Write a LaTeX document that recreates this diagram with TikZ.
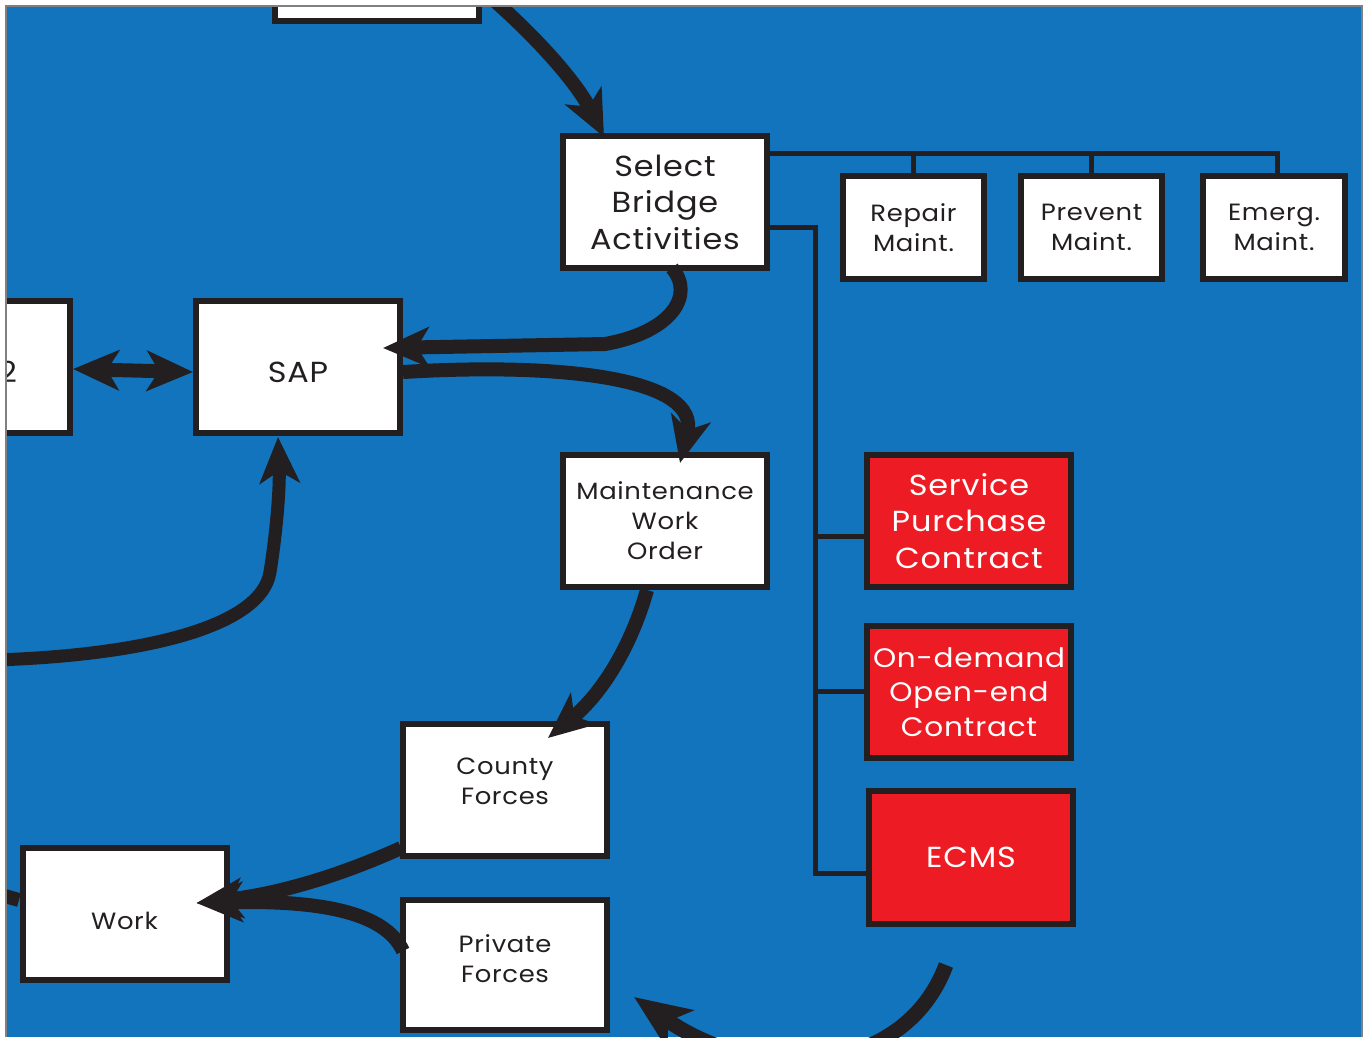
\documentclass[tikz,border=0pt]{standalone}
\usepackage{fontspec}
\setmainfont{Poppins}[FakeStretch=1.1, LetterSpace=3]
\usetikzlibrary{arrows.meta,calc}
\definecolor{bg}{RGB}{17,116,188}
\definecolor{ink}{RGB}{35,31,32}
\definecolor{redfill}{RGB}{237,28,36}
\newcommand\fntL{\fontsize{29}{36.5}\selectfont}
\newcommand\fntM{\fontsize{23.5}{30}\selectfont}
\newcommand\lift[2]{\raisebox{#1}[\height][\depth]{\begin{tabular}{@{}c@{}}#2\end{tabular}}}
\begin{document}
\begin{tikzpicture}[x=1pt,y=-1pt,
  box/.style={draw=ink, line width=6pt, fill=white, minimum width=204pt, minimum height=132pt, inner sep=0pt, align=center, text=ink, font=\fntM},
  bigtext/.style={font=\fntL},
  mbox/.style={box, minimum width=141pt, minimum height=103pt},
  rbox/.style={box, bigtext, fill=redfill, text=white},
  flow/.style={draw=ink, line width=14pt},
  tip/.style={-{Stealth[length=46pt,width=40pt,inset=12pt]}},
  tree/.style={draw=ink, line width=5pt}]
\useasboundingbox (0,0) rectangle (1364,1037);
\fill[white] (0,0) rectangle (1364,1037);
\fill[bg] (6,6) rectangle (1362,1037);
\begin{scope}
\clip (7,7) rectangle (1361.5,1040);
% tree lines
\coordinate (bus1) at (770,153);
\coordinate (bus2) at (770,227);
\draw[tree] (bus1) -- (1277,153) -- (1277,180);
\draw[tree] (913.5,153) -- (913.5,180);
\draw[tree] (1091.5,153) -- (1091.5,180);
\draw[tree] (bus2) -- (815,227) -- (815,873) -- (870,873);
\draw[tree] (815,536) -- (870,536);
\draw[tree] (815,691) -- (870,691);
% stub into Work
\coordinate (wl) at (-20,889);
% nodes
\node[box] (top) at (377,-45) {};
\node[box, bigtext] (sel) at (665,202) {Select\\Bridge\\Activities};
\node[mbox] (rep) at (913.5,227.5) {Repair\\Maint.};
\node[mbox] (prev) at (1091.5,227.5) {Prevent\\Maint.};
\node[mbox, minimum width=142pt] (emg) at (1274,227.5) {Emerg.\\Maint.};
\node[rbox] (spc) at (969,521) {Service\\Purchase\\Contract};
\node[rbox, font=\fontsize{26.8}{34.5}\selectfont] (ode) at (969,692) {On-demand\\Open-end\\Contract};
\node[rbox, minimum height=133pt] (ecms) at (971,857.5) {ECMS};
\node[box, bigtext] (sap) at (298,367) {\lift{-8pt}{SAP}};
\node[box, bigtext] (left) at (-32,367) {\makebox[98pt][r]{\lift{-8pt}{2}}};
\node[box] (mwo) at (665,521) {Maintenance\\Work\\Order};
\node[box] (cty) at (505,790) {\lift{7pt}{County\\Forces}};
\node[box, minimum height=130pt] (pvt) at (505,965) {\lift{4pt}{Private\\Forces}};
\draw[flow] (wl) -- ([yshift=14pt]19,914);
\node[box] (work) at (124.5,914) {\lift{-9pt}{Work}};
% connectors
\coordinate (a0) at (488,-5);
\draw[flow,tip] (a0) .. controls (540,40) and (578,85) .. ([xshift=-61pt,yshift=-4pt]sel.north);
\draw[flow,tip] ([xshift=7pt,yshift=3pt]sel.south) .. controls (695,295) and (672,332) .. (605,344) -- ([xshift=-20pt,yshift=19pt]sap.east);
\draw[flow,tip] ([yshift=-5pt]sap.east) .. controls (570,362) and (700,380) .. ([xshift=15pt,yshift=-11pt]mwo.north);
\draw[flow,{Stealth[length=46pt,width=40pt,inset=12pt]}-{Stealth[length=46pt,width=40pt,inset=12pt]}] ([yshift=-2pt]left.east) -- ([yshift=-5pt]sap.west);
\coordinate (e0) at (-5,660);
\draw[flow,line width=13pt,tip] (e0) .. controls (150,655) and (262,625) .. (270,572) .. controls (276,535) and (280,490) .. ([xshift=-20pt,yshift=-1pt]sap.south);
\draw[flow,tip] ([xshift=-18pt]mwo.south) .. controls (630,650) and (600,695) .. ([xshift=43pt,yshift=-17pt]cty.north);
\draw[flow,tip] ([xshift=1pt,yshift=-58pt]cty.west) .. controls (330,880) and (270,895) .. ([xshift=-33pt,yshift=11pt]work.east);
\draw[flow,tip] ([xshift=3pt,yshift=14pt]pvt.west) .. controls (385,912) and (320,900) .. ([xshift=-33pt,yshift=11pt]work.east);
\coordinate (j0) at (946,965);
\coordinate (j1) at (634,997);
\draw[flow,line width=15pt,-{Stealth[length=56pt,width=46pt,inset=14pt]}] (j0) .. controls (905,1075) and (760,1085) .. (j1);
\end{scope}
\draw[gray, line width=1.5pt] (6,1037) -- (6,6) -- (1362,6) -- (1362,1037);
\end{tikzpicture}
\end{document}
